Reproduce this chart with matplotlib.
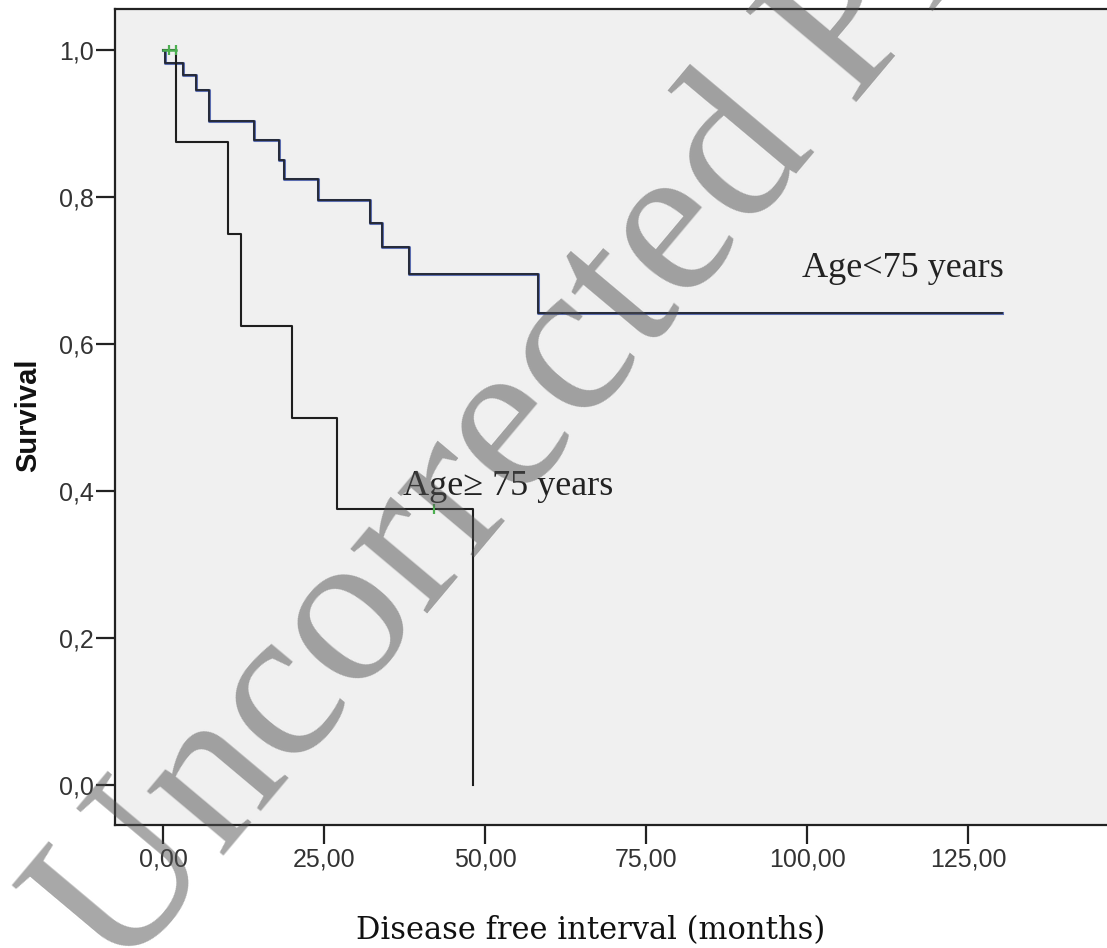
import matplotlib
matplotlib.use("Agg")
import matplotlib.pyplot as plt
from matplotlib.ticker import FixedLocator, FuncFormatter

W, H, DPI = 1107, 948, 100

# Kaplan-Meier steps (months, survival after the step)
young_t = [0.0, 0.3, 3.0, 5.1, 7.1, 14.1, 18.0, 18.7, 24.0, 32.1, 33.9, 38.2, 58.2, 130.2]
young_s = [1.0, 0.983, 0.966, 0.945, 0.903, 0.877, 0.850, 0.824, 0.796, 0.765, 0.732, 0.695, 0.642, 0.642]
old_t = [0.0, 2.0, 10.0, 12.1, 20.0, 27.0, 48.1]
old_s = [1.0, 0.875, 0.75, 0.625, 0.5, 0.375, 0.0]
old_cens_t = [0.9, 1.9, 42.0]
old_cens_s = [1.0, 1.0, 0.375]

x_ticks = [0, 25, 50, 75, 100, 125]
y_ticks = [0.0, 0.2, 0.4, 0.6, 0.8, 1.0]

SERIF = ["Liberation Serif", "DejaVu Serif"]
SANS = ["Liberation Sans", "DejaVu Sans"]

fig = plt.figure(figsize=(W / DPI, H / DPI), dpi=DPI, facecolor="white")
# axes runs a little past the right edge of the picture (cropped like the original)
ax = fig.add_axes([115 / W, 1 - 825 / H, (1113 - 115) / W, (825 - 9) / H])
ax.set_facecolor("#f0f0f0")
ax.set_xlim(-7.5, 147.5)
ax.set_ylim(-0.0544, 1.0558)

# age < 75: blue SPSS line with a darker line traced over it
ax.step(young_t, young_s, where="post", color="#5b6db0", linewidth=2.2, zorder=2)
ax.step(young_t, young_s, where="post", color="#22252f", linewidth=1.3, zorder=3)
ax.step(old_t, old_s, where="post", color="#1e1e1e", linewidth=1.5, zorder=3)
ax.plot(old_cens_t, old_cens_s, linestyle="none", marker="|", markersize=7,
        markeredgewidth=1.6, color="#4caf50", zorder=4)
ax.plot([0, 2.0], [1.0, 1.0], color="#4caf50", linewidth=1.8, zorder=4)

ax.text(99.2, 0.691, "Age<75 years", family=SERIF, fontsize=26, color="#222222",
        ha="left", va="baseline")
ax.text(37.2, 0.3946, "Age\u2265 75 years", family=SERIF, fontsize=26, color="#222222",
        ha="left", va="baseline")

ax.xaxis.set_major_locator(FixedLocator(x_ticks))
ax.yaxis.set_major_locator(FixedLocator(y_ticks))
ax.xaxis.set_major_formatter(FuncFormatter(lambda v, p: f"{v:.2f}".replace(".", ",")))
ax.yaxis.set_major_formatter(FuncFormatter(lambda v, p: f"{v:.1f}".replace(".", ",")))
ax.tick_params(direction="out", length=14, width=1.6, color="#222222",
               labelsize=18, labelcolor="#333333")
ax.tick_params(axis="x", pad=2)
ax.tick_params(axis="y", pad=1)
for lab in ax.get_xticklabels() + ax.get_yticklabels():
    lab.set_family(SANS)
for side in ("left", "bottom", "top", "right"):
    ax.spines[side].set_color("#222222")
    ax.spines[side].set_linewidth(1.6)

fig.text(28 / W, 1 - 415 / H, "Survival", rotation=90, ha="center", va="center",
         family=SANS, fontsize=21, fontweight="bold", color="#111111")
fig.text(591 / W, 1 - 939 / H, "Disease free interval (months)", ha="center",
         va="baseline", family=["DejaVu Serif"], fontsize=22, color="#111111")

# diagonal proof watermark
fig.text(119 / W, 1 - 981 / H, "Uncorrected Proof", rotation=50,
         rotation_mode="anchor", ha="left", va="baseline", family=SERIF,
         fontsize=158, color="#505050", alpha=0.5, zorder=10)

fig.savefig("out.png", dpi=DPI, facecolor="white")
